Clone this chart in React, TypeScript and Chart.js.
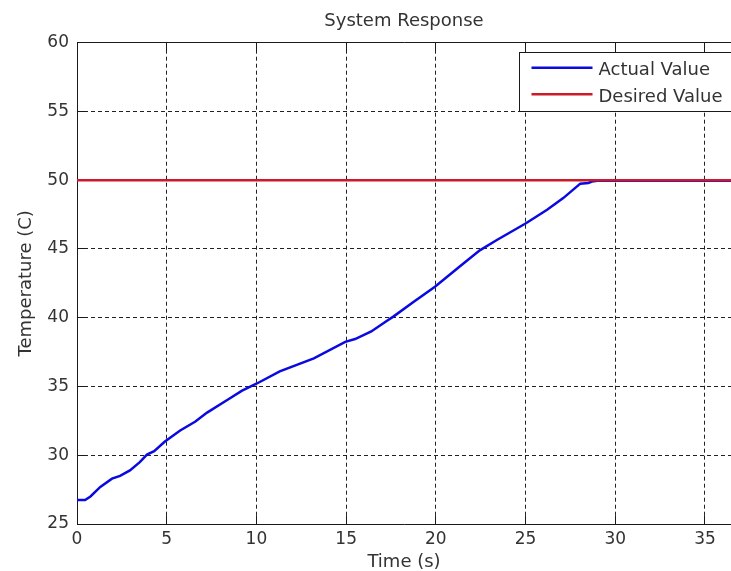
import React, { useEffect, useRef } from 'react';
import { Chart, registerables } from 'chart.js';

Chart.register(...registerables);

// ---- data ----
const timeS = [0, 0.45, 0.75, 1.3, 1.95, 2.4, 2.95, 3.5, 3.9, 4.3, 4.9, 5.75, 6.6, 7.25, 8.35, 9.2, 10, 11.3, 13.2, 14.95, 15.5, 16.4, 17.3, 17.65, 18.75, 19.95, 21.45, 22.45, 23.4, 25, 26.2, 27.1, 28.05, 28.5, 28.7, 29.1, 29.4, 36.5];
const actualValue = [26.75, 26.75, 27.0, 27.7, 28.3, 28.5, 28.9, 29.5, 30.05, 30.3, 31.0, 31.8, 32.45, 33.1, 34.0, 34.7, 35.2, 36.1, 37.05, 38.25, 38.45, 39.0, 39.8, 40.1, 41.15, 42.25, 43.85, 44.9, 45.65, 46.85, 47.85, 48.7, 49.75, 49.8, 49.9, 49.97, 49.97, 49.97];
const desiredTime = [0, 36.5];
const desiredValue = [50, 50];

const seriesLabels = ['Actual Value', 'Desired Value'];
const titleText = 'System Response';
const xTitle = 'Time (s)';
const yTitle = 'Temperature (C)';
const xMin = 0;
const xMax = 36.45;
const yMin = 25;
const yMax = 60;
const tickStep = 5;

const FONT = "'DejaVu Sans', 'Liberation Sans', sans-serif";
const TEXT = '#333333';
const BLUE = '#0a0ae0';
const RED = '#cc1a28';
const AXIS = '#1a1a1a';

const align = (p: number) => Math.round(p - 0.5) + 0.5;

const framePlugin = {
  id: 'matlabFrame',
  beforeDatasetsDraw(chart: any) {
    const { ctx, chartArea } = chart;
    const { left, top, bottom } = chartArea;
    const xs = chart.scales.x;
    const ys = chart.scales.y;
    const L = align(left);
    const T = align(top);
    const B = align(bottom);
    const R = chart.width + 2;
    ctx.save();
    ctx.setLineDash([]);
    ctx.strokeStyle = AXIS;
    ctx.lineWidth = 1;
    ctx.beginPath();
    ctx.moveTo(R, T);
    ctx.lineTo(L, T);
    ctx.lineTo(L, B);
    ctx.lineTo(R, B);
    const tl = 9;
    xs.ticks.forEach((t: any) => {
      const px = align(xs.getPixelForValue(t.value));
      ctx.moveTo(px, B);
      ctx.lineTo(px, B - tl);
      ctx.moveTo(px, T);
      ctx.lineTo(px, T + tl);
    });
    ys.ticks.forEach((t: any) => {
      const py = align(ys.getPixelForValue(t.value));
      ctx.moveTo(L, py);
      ctx.lineTo(L + tl, py);
    });
    ctx.stroke();
    ctx.restore();
  },
  afterDraw(chart: any) {
    const { ctx, chartArea } = chart;
    const bx = align(chartArea.right - 212);
    const by = align(chartArea.top + 9.6);
    const bw = chart.width - bx + 5;
    const bh = 59;
    ctx.save();
    ctx.setLineDash([]);
    ctx.fillStyle = '#ffffff';
    ctx.fillRect(bx, by, bw, bh);
    ctx.strokeStyle = AXIS;
    ctx.lineWidth = 1;
    ctx.strokeRect(bx, by, bw, bh);
    chart.data.datasets.forEach((ds: any, i: number) => {
      const ly = by + 15.2 + i * 26.5;
      ctx.strokeStyle = ds.borderColor;
      ctx.lineWidth = 2.5;
      ctx.beginPath();
      ctx.moveTo(bx + 12, ly);
      ctx.lineTo(bx + 73, ly);
      ctx.stroke();
      ctx.fillStyle = TEXT;
      ctx.font = `18px ${FONT}`;
      ctx.textAlign = 'left';
      ctx.textBaseline = 'middle';
      ctx.fillText(ds.label, bx + 79, ly + 2.8);
    });
    ctx.restore();
  },
};

export default function App() {
  const ref = useRef<HTMLCanvasElement | null>(null);

  useEffect(() => {
    if (!ref.current) return;
    const chart = new Chart(ref.current, {
      type: 'line',
      data: {
        datasets: [
          {
            label: seriesLabels[0],
            data: timeS.map((t, i) => ({ x: t, y: actualValue[i] })),
            borderColor: BLUE,
            backgroundColor: BLUE,
            borderWidth: 2.5,
            pointRadius: 0,
            tension: 0,
            order: 1,
          },
          {
            label: seriesLabels[1],
            data: desiredTime.map((t, i) => ({ x: t, y: desiredValue[i] })),
            borderColor: RED,
            backgroundColor: RED,
            borderWidth: 2.5,
            pointRadius: 0,
            tension: 0,
            order: 0,
          },
        ],
      },
      options: {
        animation: false,
        responsive: false,
        maintainAspectRatio: false,
        layout: { padding: 0 },
        plugins: {
          legend: { display: false },
          tooltip: { enabled: false },
          title: {
            display: true,
            text: titleText,
            fullSize: false,
            color: TEXT,
            font: { family: FONT, size: 18, weight: 'normal' },
            padding: { top: 11, bottom: 10.1 },
          },
        },
        scales: {
          x: {
            type: 'linear',
            min: xMin,
            max: xMax,
            afterFit: (s: any) => { s.height = 47; },
            ticks: {
              stepSize: tickStep,
              includeBounds: false,
              color: TEXT,
              font: { family: FONT, size: 17 },
              padding: 5.5,
              maxRotation: 0,
            },
            grid: { color: '#222222', lineWidth: 1, drawTicks: false },
            border: { display: false, dash: [4, 3] },
            title: {
              display: true,
              text: xTitle,
              color: TEXT,
              font: { family: FONT, size: 18 },
              padding: { top: 0, bottom: -2 },
            },
          },
          y: {
            type: 'linear',
            min: yMin,
            max: yMax,
            afterFit: (s: any) => { s.width = 77; },
            ticks: {
              stepSize: tickStep,
              color: TEXT,
              font: { family: FONT, size: 17 },
              padding: 8,
            },
            grid: { color: '#222222', lineWidth: 1, drawTicks: false },
            border: { display: false, dash: [4, 3] },
            title: {
              display: true,
              text: yTitle,
              color: TEXT,
              font: { family: FONT, size: 18 },
              padding: { top: 15.3, bottom: 0 },
            },
          },
        },
      },
      plugins: [framePlugin],
    } as any);
    return () => chart.destroy();
  }, []);

  return (
    <div style={{ position: 'fixed', left: 0, top: 0, width: 731, height: 571, background: '#ffffff', overflow: 'hidden' }}>
      <canvas ref={ref} width={731} height={571} style={{ width: 731, height: 571, display: 'block' }} />
    </div>
  );
}
